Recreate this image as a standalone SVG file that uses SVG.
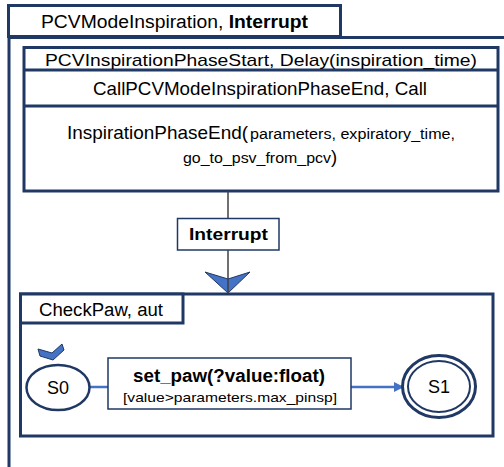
<svg xmlns="http://www.w3.org/2000/svg" width="504" height="467" viewBox="0 0 504 467">
  <style>
    .frame { fill: #ffffff; stroke: #203864; stroke-width: 3; }
    .thin { fill: #ffffff; stroke: #203864; stroke-width: 1.5; }
    .txt { font-family: "Liberation Sans", Arial, sans-serif; fill: #000000; }
    .bold { font-weight: bold; }
    .link { stroke: #4472C4; stroke-width: 2.5; fill: none; }
    .conn { stroke: #404040; stroke-width: 1.5; fill: none; }
    .head { fill: #4472C4; stroke: #203864; stroke-width: 1; }
  </style>
  <defs>
    <marker id="arrow" viewBox="0 0 10 10" refX="9" refY="5" markerWidth="4" markerHeight="4" orient="auto">
      <path d="M0,0 L10,5 L0,10 z" fill="#4472C4"/>
    </marker>
  </defs>
  <rect width="504" height="467" fill="#ffffff"/>

  <!-- outer component: PCVModeInspiration -->
  <g id="pcv-mode-inspiration">
    <path d="M9,467 L9,37.5 L506,37.5" fill="none" stroke="#203864" stroke-width="3"/>
    <rect class="frame" x="8.5" y="5.5" width="332" height="31"/>
    <text class="txt" x="41" y="28" font-size="18" textLength="267" lengthAdjust="spacingAndGlyphs">PCVModeInspiration, <tspan class="bold">Interrupt</tspan></text>
  </g>

  <!-- inner task block -->
  <g id="inspiration-phase-start">
    <rect class="frame" x="24" y="47.5" width="474" height="143.5"/>
    <line x1="24" y1="70" x2="498" y2="70" stroke="#203864" stroke-width="3"/>
    <line x1="24" y1="106" x2="498" y2="106" stroke="#203864" stroke-width="3"/>
    <text class="txt" x="45" y="66" font-size="17" textLength="432" lengthAdjust="spacingAndGlyphs">PCVInspirationPhaseStart, Delay(inspiration_time)</text>
    <text class="txt" x="93" y="95" font-size="18.5" textLength="334" lengthAdjust="spacingAndGlyphs">CallPCVModeInspirationPhaseEnd, Call</text>
    <text class="txt" x="67" y="139" font-size="18.5" textLength="181" lengthAdjust="spacingAndGlyphs">InspirationPhaseEnd(</text>
    <text class="txt" x="250" y="139" font-size="14" textLength="205" lengthAdjust="spacingAndGlyphs">parameters, expiratory_time,</text>
    <text class="txt" x="183" y="163" font-size="14" textLength="148" lengthAdjust="spacingAndGlyphs">go_to_psv_from_pcv</text>
    <text class="txt" x="331" y="163" font-size="18.5">)</text>
  </g>

  <!-- Interrupt label -->
  <g id="interrupt-label">
    <rect class="thin" x="177.5" y="218.5" width="101.5" height="31.5"/>
    <text class="txt bold" x="189" y="240" font-size="17" textLength="79" lengthAdjust="spacingAndGlyphs">Interrupt</text>
  </g>

  <!-- CheckPaw automaton -->
  <g id="checkpaw">
    <rect class="frame" x="20.5" y="294" width="472.5" height="142"/>
    <rect class="frame" x="20.5" y="294" width="162.5" height="29"/>
    <text class="txt" x="39" y="316" font-size="18" textLength="124" lengthAdjust="spacingAndGlyphs">CheckPaw, aut</text>
  </g>

  <!-- connectors -->
  <g id="connectors">
    <line class="conn" x1="228" y1="191" x2="228" y2="218"/>
    <line class="conn" x1="228" y1="250" x2="228" y2="292"/>
    <polygon class="head" points="205,272 228,279 250,272 228,293"/>
    <line class="conn" x1="228" y1="279" x2="228" y2="293"/>
    <line class="link" x1="89" y1="387" x2="108" y2="387"/>
    <line class="link" x1="351" y1="387" x2="403" y2="387" marker-end="url(#arrow)"/>
  </g>

  <!-- state S0 (initial) -->
  <g id="state-s0">
    <polygon class="head" points="38,349 52,353 62,344 64,350 53,360 40,356"/>
    <ellipse cx="58" cy="387.5" rx="31.5" ry="22.5" fill="#ffffff" stroke="#203864" stroke-width="2.5"/>
    <text class="txt" x="58" y="394" font-size="18" text-anchor="middle">S0</text>
  </g>

  <!-- transition label -->
  <g id="transition-set-paw">
    <rect class="thin" x="108" y="358" width="243" height="51"/>
    <text class="txt bold" x="133" y="382" font-size="18" textLength="192" lengthAdjust="spacingAndGlyphs">set_paw(?value:float)</text>
    <text class="txt" x="123" y="402" font-size="13" textLength="214" lengthAdjust="spacingAndGlyphs">[value&gt;parameters.max_pinsp]</text>
  </g>

  <!-- state S1 (final) -->
  <g id="state-s1">
    <ellipse cx="439" cy="386.5" rx="36.5" ry="31" fill="#ffffff" stroke="#203864" stroke-width="3"/>
    <ellipse cx="439" cy="386.5" rx="31" ry="25.5" fill="none" stroke="#203864" stroke-width="2"/>
    <text class="txt" x="439" y="393" font-size="18" text-anchor="middle">S1</text>
  </g>
</svg>
